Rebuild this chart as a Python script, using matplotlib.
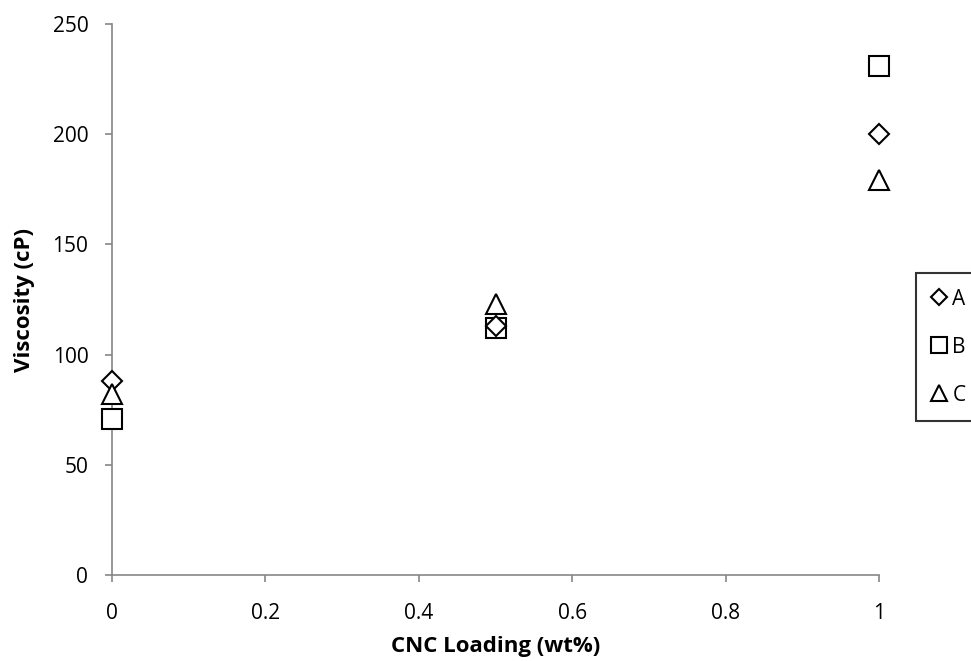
import numpy as np
import matplotlib.pyplot as plt

plt.rcParams['font.family'] = ['Open Sans', 'DejaVu Sans']

x = [0, 0.5, 1]
A = [88, 113, 200]
B = [71, 112, 231]
C = [82, 123, 179]

fig = plt.figure(figsize=(9.71, 6.61), dpi=100)
ax = fig.add_axes([0.1153, 0.130, 0.7900, 0.8337])

# B first so the diamond sits on top of the square at 0.5
ax.plot(x, B, linestyle='none', marker='s', markersize=14.5, mfc='white', mec='black',
        mew=1.5, label='B', clip_on=False, zorder=3)
ax.plot(x, A, linestyle='none', marker='D', markersize=10.3, mfc='white', mec='black',
        mew=1.5, label='A', clip_on=False, zorder=4)
ax.plot(x, C, linestyle='none', marker='^', markersize=15, mfc='white', mec='black',
        mew=1.5, label='C', clip_on=False, zorder=5)

ax.set_xlim(0, 1)
ax.set_ylim(0, 250)
ax.set_xticks(np.arange(0, 1.01, 0.2))
ax.set_xticklabels(['0', '0.2', '0.4', '0.6', '0.8', '1'])
ax.set_yticks(np.arange(0, 251, 50))
ax.tick_params(labelsize=15, color='#868686', length=5, width=1.2)
ax.tick_params(axis='x', pad=15)
ax.tick_params(axis='y', pad=12)
ax.set_xlabel('CNC Loading (wt%)', fontsize=16, fontweight='bold')
ax.set_ylabel('Viscosity (cP)', fontsize=16, fontweight='bold')
ax.xaxis.set_label_coords(0.5, -0.111)
ax.yaxis.set_label_coords(-0.100, 0.5)

for s in ['top', 'right']:
    ax.spines[s].set_visible(False)
for s in ['left', 'bottom']:
    ax.spines[s].set_color('#868686')
    ax.spines[s].set_linewidth(1.2)

handles, labels = ax.get_legend_handles_labels()
order = [1, 0, 2]
leg = fig.legend([handles[i] for i in order], [labels[i] for i in order],
                 loc='upper left', bbox_to_anchor=(0.9434, 0.587), fontsize=15,
                 frameon=True, fancybox=False, edgecolor='black', markerscale=0.8,
                 handlelength=0.7, handletextpad=0.3, labelspacing=1.3, borderpad=0.75,
                 borderaxespad=0)
leg.get_frame().set_linewidth(1.5)

fig.savefig('out.png', dpi=100)
